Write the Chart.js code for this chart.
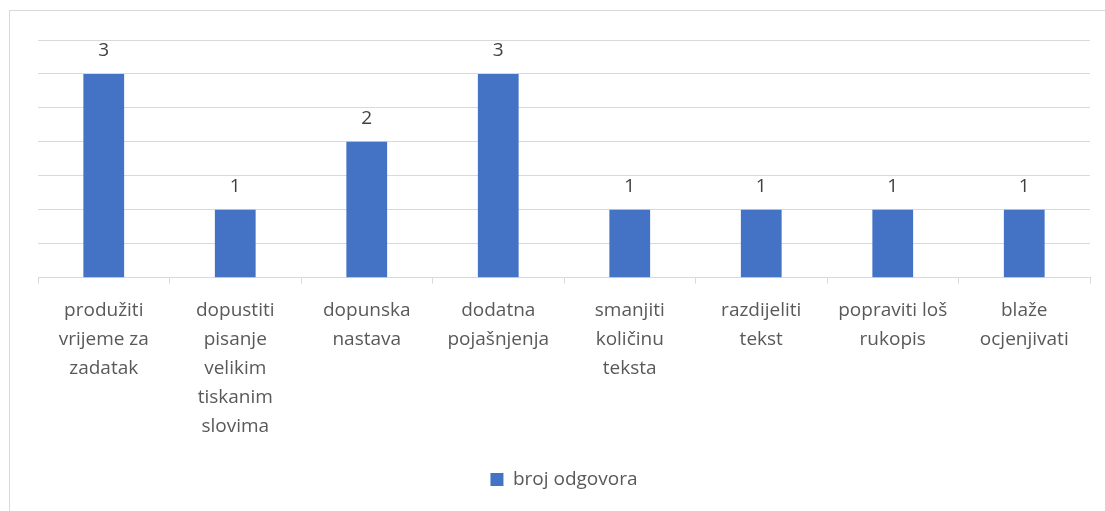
<!DOCTYPE html>
<html>
<head>
<meta charset="utf-8">
<script src="https://cdn.jsdelivr.net/npm/chart.js@4"></script>
<style>
  body { margin: 0; background: #fff; }
  #frame { position: absolute; left: 9px; top: 10px; width: 1200px; height: 600px; border: 1px solid #d9d9d9; }
  #wrap { position: absolute; left: 0; top: 0; width: 1105px; height: 511px; }
</style>
</head>
<body>
<div id="frame"></div>
<div id="wrap"><canvas id="c"></canvas></div>
<script>
// kategorije (već prelomljene u retke kao na slici)
var categories = [
    ['produžiti', 'vrijeme za', 'zadatak'],
    ['dopustiti', 'pisanje', 'velikim', 'tiskanim', 'slovima'],
    ['dopunska', 'nastava'],
    ['dodatna', 'pojašnjenja'],
    ['smanjiti', 'količinu', 'teksta'],
    ['razdijeliti', 'tekst'],
    ['popraviti loš', 'rukopis'],
    ['blaže', 'ocjenjivati']
];
var seriesLabel = 'broj odgovora';
var values = [3, 1, 2, 3, 1, 1, 1, 1];

// vrijednosti iznad stupaca
var valueLabels = {
    id: 'valueLabels',
    afterDatasetsDraw: function(chart) {
        var ctx = chart.ctx;
        var meta = chart.getDatasetMeta(0);
        ctx.save();
        ctx.font = '19px "Open Sans", sans-serif';
        ctx.fillStyle = '#404040';
        ctx.textAlign = 'center';
        ctx.textBaseline = 'middle';
        meta.data.forEach(function(bar, i) {
            ctx.fillText(String(values[i]), bar.x, bar.y - 23);
        });
        ctx.restore();
    }
};

var ctx = document.getElementById('c').getContext('2d');
new Chart(ctx, {
    type: 'bar',
    data: {
        labels: categories,
        datasets: [{
            label: seriesLabel,
            data: values,
            backgroundColor: '#4472c4',
            borderWidth: 0,
            barPercentage: 0.31,
            categoryPercentage: 1
        }]
    },
    options: {
        responsive: true,
        maintainAspectRatio: false,
        animation: false,
        layout: { padding: { left: 38, right: 15, top: 40, bottom: 12 } },
        plugins: {
            legend: {
                position: 'bottom',
                labels: {
                    boxWidth: 13,
                    boxHeight: 13,
                    color: '#595959',
                    font: { family: '"Open Sans", sans-serif', size: 19 },
                    padding: 17
                }
            },
            tooltip: { enabled: false }
        },
        scales: {
            x: {
                offset: true,
                grid: {
                    offset: true,
                    drawOnChartArea: false,
                    drawTicks: true,
                    tickLength: 6,
                    color: '#d9d9d9'
                },
                border: { color: '#d9d9d9', width: 1 },
                ticks: {
                    color: '#595959',
                    font: { family: '"Open Sans", sans-serif', size: 19, lineHeight: 1.53 },
                    maxRotation: 0,
                    autoSkip: false,
                    padding: 12
                }
            },
            y: {
                min: 0,
                max: 3.5,
                ticks: { display: false, stepSize: 0.5 },
                grid: { color: '#d9d9d9', drawTicks: false },
                border: { display: false }
            }
        }
    },
    plugins: [valueLabels]
});
</script>
</body>
</html>
